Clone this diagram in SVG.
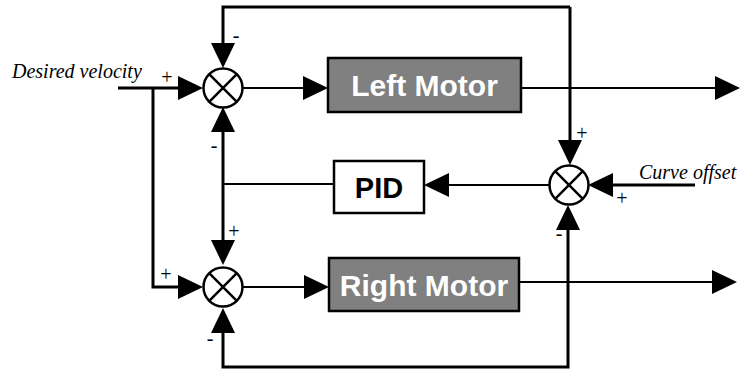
<svg xmlns="http://www.w3.org/2000/svg" width="742" height="372" viewBox="0 0 742 372">
<style>
.ln{fill:none;stroke:#000;stroke-width:3}
.thin{fill:none;stroke:#000;stroke-width:2}
.arr{marker-end:url(#ah)}
.sum{fill:#fff;stroke:#000;stroke-width:2.5}
.x{stroke:#000;stroke-width:2.5}
.motor{fill:#808080;stroke:#000;stroke-width:2.5}
.pid{fill:#fff;stroke:#000;stroke-width:2.5}
.mt{font-family:"Liberation Sans",Arial,sans-serif;font-weight:bold;font-size:30px;fill:#fff;text-anchor:middle}
.pt{font-family:"Liberation Sans",Arial,sans-serif;font-weight:bold;font-size:29px;fill:#000;text-anchor:middle}
.lab{font-family:"Liberation Serif","Times New Roman",serif;font-style:italic;font-size:20px;fill:#000}
.sg{font-family:"Liberation Serif","Times New Roman",serif;font-size:20px;fill:#000;text-anchor:middle}
</style>
<defs>
<marker id="ah" markerUnits="userSpaceOnUse" markerWidth="26" markerHeight="26" viewBox="0 0 26 26" refX="21" refY="13" orient="auto">
<path d="M0,1 L25,13 L0,25 Z" fill="#000"/>
</marker>
</defs>
<g id="connectors">
<path class="ln arr" d="M118,88 H199"/>
<path class="ln arr" d="M153,88 V287 H199"/>
<path class="thin arr" d="M243,88 H324"/>
<path class="thin arr" d="M521,88 H736"/>
<path class="ln arr" d="M570,7 H223 V64"/>
<path class="ln arr" d="M570,7 V161"/>
<path class="ln arr" d="M695,185 H592"/>
<path class="thin arr" d="M549,185 H428"/>
<path class="thin" d="M334,184 H223"/>
<path class="ln arr" d="M223,184 V111"/>
<path class="ln arr" d="M223,184 V261"/>
<path class="thin arr" d="M519,282 H733"/>
<path class="thin arr" d="M243,287 H325"/>
<path class="ln arr" d="M568,282 V367 H223 V312"/>
<path class="ln arr" d="M568,282 V209"/>
</g>
<g id="sum_top">
<circle class="sum" cx="223" cy="88" r="19.5"/>
<path class="x" d="M209.2,74.2 L236.8,101.8 M236.8,74.2 L209.2,101.8"/>
</g>
<g id="sum_bottom">
<circle class="sum" cx="223" cy="287" r="19.5"/>
<path class="x" d="M209.2,273.2 L236.8,300.8 M236.8,273.2 L209.2,300.8"/>
</g>
<g id="sum_right">
<circle class="sum" cx="569" cy="185" r="19.5"/>
<path class="x" d="M555.2,171.2 L582.8,198.8 M582.8,171.2 L555.2,198.8"/>
</g>
<g id="left_motor">
<rect class="motor" x="328" y="58" width="193" height="54"/>
<text class="mt" x="424.5" y="96">Left Motor</text>
</g>
<g id="right_motor">
<rect class="motor" x="329" y="258" width="190" height="53"/>
<text class="mt" x="424" y="295.5">Right Motor</text>
</g>
<g id="pid">
<rect class="pid" x="334" y="161" width="90" height="52"/>
<text class="pt" x="379" y="197.5">PID</text>
</g>
<g id="labels">
<text class="lab" x="12" y="78">Desired velocity</text>
<text class="lab" x="639" y="179">Curve offset</text>
<text class="sg" x="236" y="42">-</text>
<text class="sg" x="167" y="84">+</text>
<text class="sg" x="214" y="152">-</text>
<text class="sg" x="234" y="238">+</text>
<text class="sg" x="582" y="140">+</text>
<text class="sg" x="622" y="205">+</text>
<text class="sg" x="559" y="240">-</text>
<text class="sg" x="166" y="281">+</text>
<text class="sg" x="210" y="345">-</text>
</g>
</svg>
